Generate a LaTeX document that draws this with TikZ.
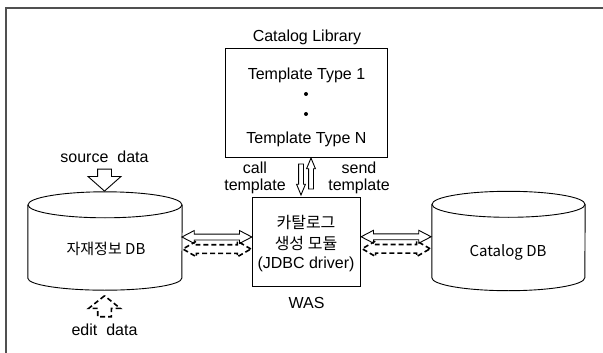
\documentclass[tikz,border=0pt]{standalone}
\usepackage{fontspec}
\setmainfont{Liberation Sans}
\newfontfamily\krfont{Noto Sans CJK KR}
\usetikzlibrary{shapes.arrows,calc}

\definecolor{framegray}{HTML}{505050}

\tikzset{
  txt/.style={inner sep=0pt, font=\fontsize{16}{21}\selectfont},
  krtxt/.style={inner sep=0pt, font=\krfont\fontsize{16}{21}\selectfont},
  dbtxt/.style={inner sep=0pt, font=\krfont\fontsize{15}{18}\selectfont},
  plainbox/.style={draw, line width=0.9pt, inner sep=0pt},
  dbbody/.style={inner sep=0pt, minimum width=154pt, minimum height=73pt},
  dbline/.style={line width=0.9pt},
  % shaft width = 2 x inner ysep, head width = shaft + 2 x head extend
  hollowdouble/.style={double arrow, draw, line width=0.9pt,
    inner xsep=0pt, inner ysep=2.5pt, double arrow head extend=3.5pt,
    double arrow tip angle=55, minimum height=70pt},
  dasheddouble/.style={double arrow, draw, line width=1.6pt,
    dash pattern=on 5pt off 3pt,
    inner xsep=0pt, inner ysep=3.5pt, double arrow head extend=3.5pt,
    double arrow tip angle=60, minimum height=68pt},
  thinarrow/.style={single arrow, draw, line width=0.9pt,
    inner xsep=0pt, inner ysep=2pt, single arrow head extend=2pt,
    single arrow tip angle=45, minimum height=31pt},
  bigarrow/.style={single arrow, draw, line width=0.9pt,
    inner xsep=0pt, inner ysep=6.5pt, single arrow head extend=9.5pt,
    single arrow tip angle=97, minimum height=22pt},
  dashedbigarrow/.style={single arrow, draw, line width=1.6pt,
    dash pattern=on 5pt off 3pt,
    inner xsep=0pt, inner ysep=6pt, single arrow head extend=9pt,
    single arrow tip angle=103, minimum height=21pt},
}

\begin{document}
\begin{tikzpicture}[x=1pt, y=-1pt]
\useasboundingbox (0,0) rectangle (603,353);
\fill[white] (0,0) rectangle (603,353);

% outer frame (only top and left edges show)
\draw[framegray, line width=2pt] (5.7,353) -- (5.7,8) -- (603,8);

% catalog library box
\node[txt, anchor=base] (libtitle) at (307,41.5) {Catalog Library};
\node[plainbox, minimum width=162pt, minimum height=109pt] (tpl) at (306,102.5) {};
\node[txt, anchor=base] (t1) at (306.5,80) {Template Type 1};
\fill (306,94) circle[radius=2pt];
\fill (306,114) circle[radius=2pt];
\node[txt, anchor=base] (tn) at (306.5,143.3) {Template Type N};

% WAS module box
\node[plainbox, minimum width=108pt, minimum height=89pt] (was) at (306,241.5) {};
\node[krtxt] (m1) at (306,222) {카탈로그};
\node[krtxt] (m2) at (306,243) {생성 모듈};
\node[txt] (m3) at (306,264.5) {(JDBC driver)};
\node[txt, anchor=base] (waslabel) at (306.5,308) {WAS};

% template exchange
\node[txt, anchor=base] (call1) at (255,173) {call};
\node[txt, anchor=base] (call2) at (255,190) {template};
\node[txt, anchor=base] (send1) at (359,173) {send};
\node[txt, anchor=base] (send2) at (359,190) {template};
\node[thinarrow, rotate=-90] (down) at ($(tpl.south)!0.5!(was.north)+(-5,-0.5)$) {};
\node[thinarrow, rotate=90] (up) at ($(tpl.south)!0.5!(was.north)+(5,-0.5)$) {};

% left database
\node[dbbody] (ldb) at (105,241.5) {};
\draw[dbline] (ldb.north west) -- (ldb.south west)
  arc[start angle=180, end angle=360, x radius=77pt, y radius=12pt]
  -- (ldb.north east);
\draw[dbline] (ldb.north) ellipse[x radius=77pt, y radius=13pt];
\node[dbtxt, anchor=base] (ldblabel) at (106,254.5) {자재정보 DB};

% right database
\node[dbbody, minimum width=153pt] (rdb) at (508.5,241) {};
\draw[dbline] (rdb.north west) -- (rdb.south west)
  arc[start angle=180, end angle=360, x radius=76.5pt, y radius=13pt]
  -- (rdb.north east);
\draw[dbline] (rdb.north) ellipse[x radius=76.5pt, y radius=13pt];
\node[dbtxt, anchor=base] (rdblabel) at (508,256) {Catalog DB};

% links between databases and module
\node[hollowdouble] (l1) at ($(ldb.east)!0.5!(was.west)+(0,-4.5)$) {};
\node[dasheddouble] (l2) at ($(ldb.east)!0.5!(was.west)+(0,7.5)$) {};
\node[hollowdouble] (r1) at ($(was.east)!0.5!(rdb.west)+(0,-4.5)$) {};
\node[dasheddouble] (r2) at ($(was.east)!0.5!(rdb.west)+(0,7.5)$) {};

% source / edit data
\node[txt, anchor=base] (srclabel) at (104.5,162) {source\hspace{9pt}data};
\node[bigarrow, rotate=-90] (srcarrow) at (104.5,177) {};
\node[dashedbigarrow, rotate=90] (editarrow) at (104.5,309) {};
\node[txt, anchor=base] (editlabel) at (104.5,335) {edit\hspace{9pt}data};
\end{tikzpicture}
\end{document}
